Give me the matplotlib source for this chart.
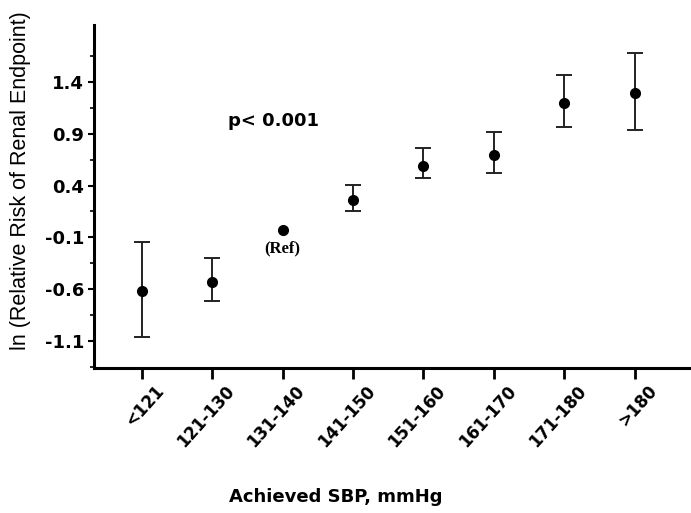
import numpy as np
import matplotlib.pyplot as plt
import matplotlib.transforms as mtransforms
from matplotlib.ticker import FixedLocator

# categories and estimates
groups = ['<121', '121-130', '131-140', '141-150', '151-160', '161-170', '171-180', '>180']
ln_rr = [-0.62, -0.53, -0.03, 0.26, 0.59, 0.70, 1.20, 1.29]
ci_low = [-1.06, -0.71, None, 0.155, 0.47, 0.52, 0.97, 0.94]
ci_high = [-0.14, -0.30, None, 0.41, 0.76, 0.915, 1.47, 1.68]
ref_idx = 2
y_ticks = [-1.1, -0.6, -0.1, 0.4, 0.9, 1.4]

x = np.arange(len(groups))
has_ci = [i for i in range(len(groups)) if ci_low[i] is not None]
xe = x[has_ci]
ye = np.array([ln_rr[i] for i in has_ci])
lo = ye - np.array([ci_low[i] for i in has_ci])
hi = np.array([ci_high[i] for i in has_ci]) - ye

fig = plt.figure(figsize=(6.91, 5.13), dpi=100)
ax = fig.add_axes([0.136, 0.283, 0.864, 0.668])

ax.errorbar(xe, ye, yerr=[lo, hi], fmt='o', color='black', ms=7,
            ecolor='#222222', elinewidth=1.4, capsize=6, capthick=1.4)
# reference group has no interval
ax.plot(x[ref_idx], ln_rr[ref_idx], 'o', color='black', ms=7)

ax.text(2, -0.21, '(Ref)', ha='center', va='center', fontsize=12,
        fontweight='bold', family='Liberation Serif')
ax.text(1.23, 1.02, 'p< 0.001', ha='left', va='center', fontsize=13,
        fontweight='bold', family='DejaVu Sans')

ax.set_xlim(-0.68, 7.8)
ax.set_ylim(-1.36, 1.95)

ax.yaxis.set_major_locator(FixedLocator(y_ticks))
ax.yaxis.set_minor_locator(FixedLocator([v + 0.25 for v in y_ticks] + [-1.35]))
ax.set_yticklabels(['%.1f' % v for v in y_ticks], fontsize=13, fontweight='bold')

for s in ['top', 'right']:
    ax.spines[s].set_visible(False)
for s in ['left', 'bottom']:
    ax.spines[s].set_linewidth(2.2)

ax.tick_params(axis='y', which='major', length=4, width=1.5, pad=3)
ax.tick_params(axis='y', which='minor', length=3, width=1.2)
ax.tick_params(axis='x', which='major', length=8, width=2, pad=0)

ax.set_xticks(x)
ax.set_xticklabels(groups, rotation=48, ha='right', va='center',
                   rotation_mode='anchor', fontsize=12, fontweight='bold')
# push the slanted labels right/down like the original
shift = mtransforms.ScaledTranslation(0.19, -0.09, fig.dpi_scale_trans)
for lab in ax.get_xticklabels():
    lab.set_transform(lab.get_transform() + shift)

ax.set_ylabel('ln (Relative Risk of Renal Endpoint)', fontsize=15.5,
              family='Liberation Sans')
ax.set_xlabel('Achieved SBP, mmHg', fontsize=13, fontweight='bold')
ax.yaxis.set_label_coords(-0.105, 0.545)
ax.xaxis.set_label_coords(0.405, -0.35)

fig.savefig('out.png', dpi=100)
